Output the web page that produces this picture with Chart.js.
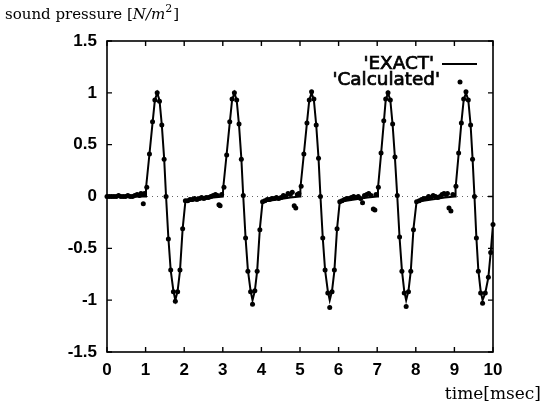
<!DOCTYPE html>
<html>
<head>
<meta charset="utf-8">
<script src="https://cdn.jsdelivr.net/npm/chart.js@4/dist/chart.umd.min.js"></script>
<style>
  body { margin: 0; background: #fff; }
  #wrap { width: 546px; height: 406px; }
</style>
</head>
<body>
<div id="wrap"><canvas id="chart" width="546" height="406"></canvas></div>
<script>
/* =========================================================
   DATA
========================================================= */
const xTickLabels = ["0", "1", "2", "3", "4", "5", "6", "7", "8", "9", "10"];
const yTickLabels = ["-1.5", "-1", "-0.5", "0", "0.5", "1", "1.5"];

// 'EXACT' curve
const exactTime = [
    0.00, 1.00,
    1.01, 1.10, 1.18, 1.24, 1.30, 1.36, 1.42, 1.48, 1.53, 1.59, 1.65, 1.72, 1.77, 1.83, 1.89, 1.96, 2.03, 2.41, 2.75, 3.00,
    3.01, 3.10, 3.18, 3.24, 3.30, 3.36, 3.42, 3.48, 3.53, 3.59, 3.65, 3.72, 3.77, 3.83, 3.89, 3.96, 4.03, 4.41, 4.75, 5.00,
    5.01, 5.10, 5.18, 5.24, 5.30, 5.36, 5.42, 5.48, 5.53, 5.59, 5.65, 5.72, 5.77, 5.83, 5.89, 5.96, 6.03, 6.41, 6.75, 7.00,
    7.02, 7.10, 7.17, 7.22, 7.28, 7.34, 7.40, 7.46, 7.52, 7.58, 7.64, 7.70, 7.75, 7.81, 7.87, 7.94, 8.02, 8.41, 8.75, 9.02,
    9.03, 9.11, 9.18, 9.24, 9.30, 9.36, 9.42, 9.47, 9.52, 9.57, 9.62, 9.68, 9.73, 9.80, 9.88, 9.94, 10.00
];
const exactValue = [
    0.00, 0.00,
    0.08, 0.41, 0.71, 0.93, 1.00, 0.93, 0.69, 0.37, 0.00, -0.40, -0.71, -0.91, -1.00, -0.91, -0.72, -0.31, -0.05, -0.03, -0.01, 0.00,
    0.08, 0.41, 0.71, 0.93, 1.00, 0.93, 0.69, 0.37, 0.00, -0.40, -0.71, -0.91, -1.00, -0.91, -0.72, -0.31, -0.05, -0.03, -0.01, 0.00,
    0.08, 0.41, 0.71, 0.93, 1.00, 0.93, 0.69, 0.37, 0.00, -0.40, -0.71, -0.91, -1.00, -0.91, -0.72, -0.31, -0.05, -0.03, -0.01, 0.00,
    0.08, 0.41, 0.71, 0.93, 1.00, 0.93, 0.69, 0.37, 0.00, -0.40, -0.71, -0.91, -1.00, -0.91, -0.72, -0.31, -0.05, -0.03, -0.01, 0.00,
    0.08, 0.41, 0.71, 0.93, 1.00, 0.93, 0.69, 0.37, 0.00, -0.40, -0.71, -0.91, -1.00, -0.93, -0.78, -0.54, -0.27
];

// 'Calculated' points
const calcTime = [
    0.00, 0.06, 0.12, 0.18, 0.24, 0.30, 0.36, 0.42, 0.48, 0.54, 0.60, 0.66, 0.72, 0.78, 0.84, 0.88, 0.92, 0.94, 0.97,
    1.03, 1.10, 1.18, 1.24, 1.30, 1.36, 1.42, 1.48, 1.53, 1.59, 1.65, 1.72, 1.77, 1.83, 1.89, 1.96, 2.03,
    2.09, 2.15, 2.21, 2.27, 2.33, 2.39, 2.45, 2.51, 2.57, 2.63, 2.69, 2.75, 2.81, 2.86, 2.90, 2.93, 2.97,
    3.03, 3.10, 3.18, 3.24, 3.30, 3.36, 3.42, 3.48, 3.53, 3.59, 3.65, 3.72, 3.77, 3.83, 3.89, 3.96, 4.03,
    4.09, 4.15, 4.21, 4.27, 4.33, 4.39, 4.45, 4.51, 4.57, 4.63, 4.69, 4.75, 4.80, 4.85, 4.89, 4.93, 4.97,
    5.03, 5.10, 5.18, 5.24, 5.30, 5.36, 5.42, 5.48, 5.53, 5.59, 5.65, 5.72, 5.77, 5.83, 5.89, 5.96, 6.03,
    6.09, 6.15, 6.21, 6.27, 6.33, 6.39, 6.45, 6.51, 6.57, 6.62, 6.67, 6.73, 6.78, 6.84, 6.90, 6.94, 6.97,
    7.03, 7.10, 7.17, 7.22, 7.28, 7.34, 7.40, 7.46, 7.52, 7.58, 7.64, 7.70, 7.75, 7.81, 7.87, 7.94, 8.02,
    8.09, 8.15, 8.21, 8.27, 8.33, 8.39, 8.45, 8.51, 8.57, 8.63, 8.68, 8.73, 8.78, 8.82, 8.86, 8.91, 8.96,
    9.04, 9.11, 9.18, 9.24, 9.30, 9.36, 9.42, 9.47, 9.52, 9.57, 9.62, 9.68, 9.73, 9.80, 9.88, 9.94, 10.00
];
const calcValue = [
    0.00, 0.00, 0.00, 0.00, 0.00, 0.01, 0.00, 0.00, 0.00, 0.01, 0.00, 0.00, 0.01, 0.02, 0.01, 0.03, 0.02, -0.07, 0.03,
    0.09, 0.41, 0.72, 0.93, 1.00, 0.92, 0.69, 0.36, 0.00, -0.41, -0.71, -0.92, -1.01, -0.92, -0.71, -0.31, -0.04,
    -0.04, -0.03, -0.03, -0.02, -0.03, -0.02, -0.01, -0.02, -0.01, -0.01, 0.00, 0.01, 0.02, 0.01, -0.08, -0.09, 0.02,
    0.09, 0.40, 0.72, 0.94, 1.00, 0.93, 0.70, 0.36, 0.01, -0.40, -0.72, -0.92, -1.04, -0.91, -0.72, -0.32, -0.05,
    -0.04, -0.03, -0.03, -0.02, -0.02, -0.01, -0.02, -0.01, 0.01, 0.00, 0.03, 0.02, 0.04, -0.09, -0.11, 0.02, 0.03,
    0.10, 0.41, 0.71, 0.93, 1.01, 0.94, 0.69, 0.37, 0.00, -0.40, -0.71, -0.93, -1.07, -0.92, -0.71, -0.31, -0.05,
    -0.04, -0.03, -0.02, -0.02, -0.01, 0.00, -0.01, 0.00, -0.02, -0.06, 0.01, 0.02, 0.03, 0.01, -0.12, -0.13, 0.02,
    0.09, 0.42, 0.73, 0.94, 1.00, 0.93, 0.70, 0.38, 0.01, -0.39, -0.72, -0.93, -1.06, -0.92, -0.72, -0.32, -0.05,
    -0.04, -0.03, -0.02, -0.02, 0.00, -0.01, 0.01, 0.00, -0.01, 0.00, 0.02, 0.03, 0.02, 0.03, -0.11, -0.14, 0.02,
    0.10, 0.42, 0.71, 0.94, 1.01, 0.93, 0.69, 0.36, 0.00, -0.40, -0.72, -0.93, -1.03, -0.93, -0.78, -0.54, -0.27
];

/* =========================================================
   FRAME, TICKS, TITLES, KEY (gnuplot look)
========================================================= */
const gnuplotDecor = {
    id: "gnuplotDecor",
    beforeDatasetsDraw(chart) {
        const { ctx, chartArea: a, scales } = chart;
        const y0 = scales.y.getPixelForValue(0);
        ctx.save();
        ctx.strokeStyle = "#666";
        ctx.lineWidth = 1;
        ctx.setLineDash([1, 4]);
        ctx.beginPath();
        ctx.moveTo(a.left, y0);
        ctx.lineTo(a.right, y0);
        ctx.stroke();
        ctx.restore();
    },
    afterDatasetsDraw(chart) {
        const { ctx, chartArea: a, scales } = chart;
        ctx.save();
        ctx.strokeStyle = "#000";
        ctx.lineWidth = 1.6;
        ctx.strokeRect(a.left, a.top, a.right - a.left, a.bottom - a.top);

        // inward ticks on all four sides
        ctx.lineWidth = 1.4;
        ctx.beginPath();
        scales.x.ticks.forEach(t => {
            const px = scales.x.getPixelForValue(t.value);
            ctx.moveTo(px, a.bottom); ctx.lineTo(px, a.bottom - 5);
            ctx.moveTo(px, a.top); ctx.lineTo(px, a.top + 5);
        });
        scales.y.ticks.forEach(t => {
            const py = scales.y.getPixelForValue(t.value);
            ctx.moveTo(a.left, py); ctx.lineTo(a.left + 5, py);
            ctx.moveTo(a.right, py); ctx.lineTo(a.right - 5, py);
        });
        ctx.stroke();
        ctx.restore();
    },
    afterDraw(chart) {
        const { ctx } = chart;
        ctx.save();
        ctx.fillStyle = "#000";
        ctx.textBaseline = "alphabetic";

        // y title: sound pressure [N/m^2]
        let x = 5;
        const yb = 19;
        const parts = [
            ["sound pressure [", "15px 'DejaVu Serif'", 0],
            ["N/m", "italic 15px 'DejaVu Serif'", 0],
            ["2", "11px 'DejaVu Serif'", -7],
            ["]", "15px 'DejaVu Serif'", 0]
        ];
        parts.forEach(([txt, font, dy]) => {
            ctx.font = font;
            ctx.fillText(txt, x, yb + dy);
            x += ctx.measureText(txt).width + (dy ? 1 : 0);
        });

        // x title
        ctx.font = "17px 'DejaVu Serif'";
        ctx.textAlign = "right";
        ctx.fillText("time[msec]", 541, 399);

        // key (text slightly stretched and thickened like the scan)
        ctx.font = "17px 'DejaVu Sans'";
        ctx.textBaseline = "middle";
        ctx.strokeStyle = "#000";
        ctx.lineWidth = 0.7;
        ctx.save();
        ctx.scale(1.08, 1);
        [["'EXACT'", 434, 65], ["'Calculated'", 440, 81]].forEach(([txt, rx, ty]) => {
            ctx.fillText(txt, rx / 1.08, ty);
            ctx.strokeText(txt, rx / 1.08, ty);
        });
        ctx.restore();
        ctx.lineWidth = 1.8;
        ctx.beginPath();
        ctx.moveTo(442, 64);
        ctx.lineTo(477, 64);
        ctx.stroke();
        ctx.beginPath();
        ctx.arc(460, 82, 2.5, 0, Math.PI * 2);
        ctx.fill();
        ctx.restore();
    }
};

/* =========================================================
   CHART
========================================================= */
const tickFont = { family: "'Liberation Sans', Arial, sans-serif", size: 17, weight: "bold" };

new Chart(document.getElementById("chart"), {
    type: "scatter",
    data: {
        datasets: [
            {
                label: "'EXACT'",
                data: exactTime.map((t, i) => ({ x: t, y: exactValue[i] })),
                showLine: true,
                borderColor: "#000",
                borderWidth: 2,
                pointRadius: 0,
                tension: 0
            },
            {
                label: "'Calculated'",
                data: calcTime.map((t, i) => ({ x: t, y: calcValue[i] })),
                showLine: false,
                pointRadius: 2.5,
                pointBackgroundColor: "#000",
                pointBorderWidth: 0,
                clip: 4
            }
        ]
    },
    options: {
        responsive: false,
        animation: false,
        layout: { padding: { top: 41, right: 53, left: 0, bottom: 0 } },
        plugins: {
            legend: { display: false },
            tooltip: { enabled: false }
        },
        scales: {
            x: {
                type: "linear",
                min: 0,
                max: 10,
                grid: { display: false, drawTicks: false, tickLength: 0 },
                border: { display: false },
                ticks: {
                    stepSize: 1,
                    padding: 8,
                    color: "#000",
                    font: tickFont,
                    maxRotation: 0,
                    callback: (v, i) => xTickLabels[i]
                },
                afterFit: s => { s.height = 54; }
            },
            y: {
                min: -1.5,
                max: 1.5,
                grid: { display: false, drawTicks: false, tickLength: 0 },
                border: { display: false },
                ticks: {
                    stepSize: 0.5,
                    padding: 10,
                    color: "#000",
                    font: tickFont,
                    callback: (v, i) => yTickLabels[i]
                },
                afterFit: s => { s.width = 107; }
            }
        }
    },
    plugins: [gnuplotDecor]
});
</script>
</body>
</html>
